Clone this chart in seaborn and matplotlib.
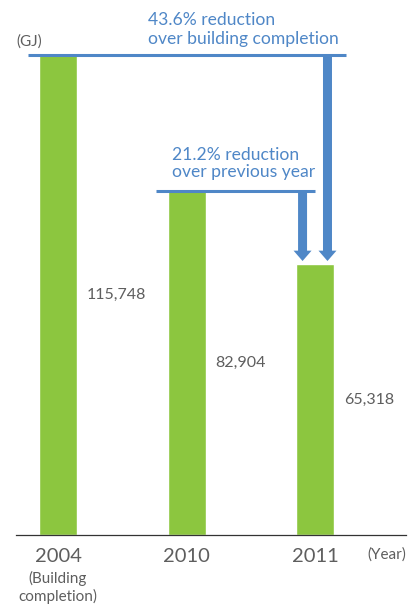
import matplotlib
matplotlib.use("Agg")
import matplotlib.pyplot as plt
import seaborn as sns

# dados do gráfico
anos = ["2004", "2010", "2011"]
consumo = [115748, 82904, 65318]
rotulos = ["115,748", "82,904", "65,318"]
texto_reducao_total = "43.6% reduction\nover building completion"
texto_reducao_ano = "21.2% reduction\nover previous year"

verde = "#8cc63f"
azul = "#4f87c7"
cinza = "#5e5e5e"

sns.set_style("white")
plt.rcParams["font.family"] = ["Lato", "DejaVu Sans"]

fig = plt.figure(figsize=(4.15, 6.05), dpi=100)
ax = fig.add_axes([16 / 415, 70 / 605, 390 / 415, 535 / 605])

largura = 0.296
sns.barplot(x=anos, y=consumo, order=anos, color=verde, saturation=1,
            width=largura, ax=ax)

ax.set_xlim(-0.327, 2.708)
ax.set_ylim(0, 129011)

# eixos
for lado in ["top", "left", "right"]:
    ax.spines[lado].set_visible(False)
ax.spines["bottom"].set_color("#333333")
ax.spines["bottom"].set_linewidth(0.9)
ax.set_yticks([])
ax.set_xlabel("")
ax.set_ylabel("")
ax.tick_params(axis="x", length=0, pad=9, labelsize=14.5, labelcolor=cinza)

# valores ao lado das barras
for i, (v, r) in enumerate(zip(consumo, rotulos)):
    ax.annotate(r, xy=(i + largura / 2, v / 2), xytext=(10, 0),
                textcoords="offset pixels", va="center", ha="left",
                fontsize=11.5, color=cinza)

# linhas e setas azuis
ax.plot([-0.233, 2.241], [consumo[0], consumo[0]], color=azul, lw=2.2,
        solid_capstyle="butt")
ax.plot([0.763, 2.0], [consumo[1], consumo[1]], color=azul, lw=2.2,
        solid_capstyle="butt")
fim = consumo[2] + 750
for x0, y0 in [(2.097, consumo[0]), (1.903, consumo[1])]:
    ax.arrow(x0, y0, 0, fim - y0, width=0.07, head_width=0.14,
             head_length=2500, length_includes_head=True, color=azul, lw=0)

ax.annotate(texto_reducao_total, xy=(0.70, consumo[0]), xytext=(0, 8),
            textcoords="offset pixels", va="bottom", ha="left",
            fontsize=12.6, color=azul, linespacing=1.25)
ax.annotate(texto_reducao_ano, xy=(0.887, consumo[1]), xytext=(0, 11),
            textcoords="offset pixels", va="bottom", ha="left",
            fontsize=12.6, color=azul, linespacing=1.1)

# textos auxiliares
ax.annotate("(Building\ncompletion)", xy=(0, 0), xytext=(0, -36),
            textcoords="offset pixels", va="top", ha="center",
            fontsize=11, color=cinza, linespacing=1.2)
ax.annotate("(Year)", xy=(1, 0), xycoords="axes fraction", xytext=(0, -12),
            textcoords="offset pixels", va="top", ha="right",
            fontsize=11, color=cinza)
ax.annotate("(GJ)", xy=(0, 0.922), xycoords="axes fraction", xytext=(0, 0),
            textcoords="offset pixels", va="center", ha="left",
            fontsize=11, color=cinza)

fig.savefig("out.png", dpi=100)
